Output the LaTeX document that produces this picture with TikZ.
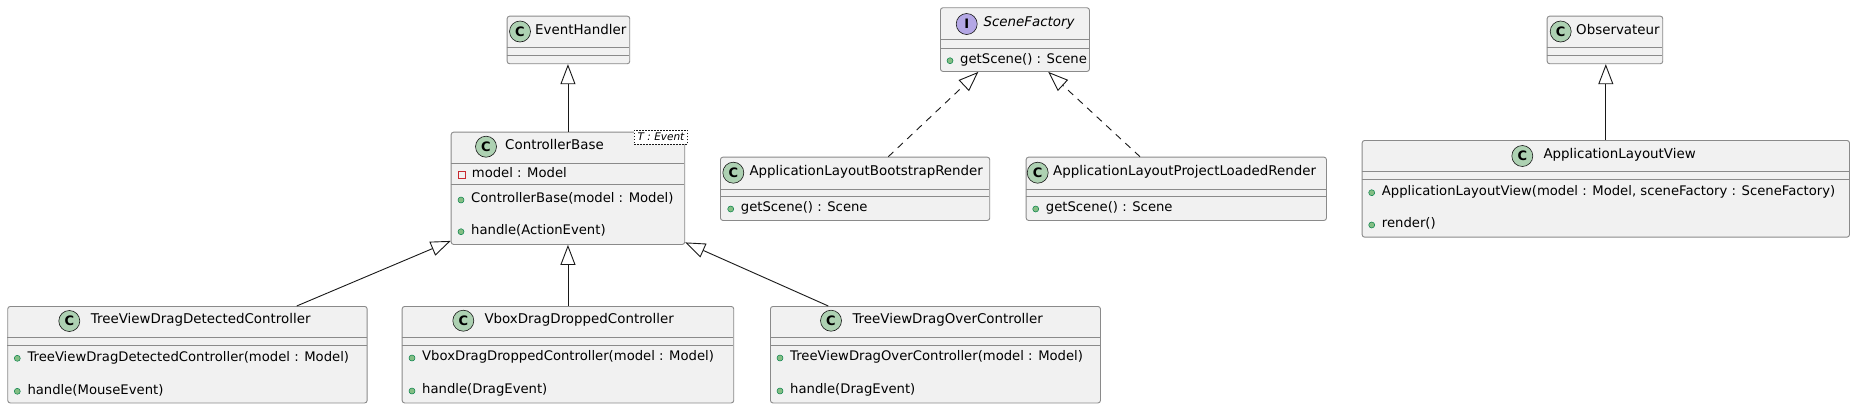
\documentclass[tikz,border=0pt]{standalone}
\usepackage{fontspec}
\setmainfont{DejaVu Sans}
\usepackage{tikz}
\usetikzlibrary{arrows.meta, calc}

\definecolor{boxbg}{HTML}{F1F1F1}
\definecolor{boxedge}{HTML}{8A8A8A}
\definecolor{boxline}{HTML}{181818}
\definecolor{classicon}{HTML}{ADD1B2}
\definecolor{ifaceicon}{HTML}{B4A7E5}
\definecolor{pubfill}{HTML}{84BE84}
\definecolor{publine}{HTML}{038048}
\definecolor{privline}{HTML}{C82930}

\tikzset{
  classbox/.style={draw=boxedge, fill=boxbg, line width=0.9pt, rounded corners=2.5pt,
    anchor=north west, inner sep=0pt},
  sepline/.style={draw=boxedge, line width=0.9pt},
  cicon/.style={circle, draw=boxline, fill=classicon, line width=0.6pt, minimum size=21pt,
    inner sep=0pt, font=\bfseries\fontsize{13}{13}\selectfont},
  ctitle/.style={anchor=mid west, inner sep=0pt, font=\fontsize{13.4}{16}\selectfont},
  member/.style={anchor=mid west, inner sep=0pt, font=\fontsize{13.2}{16}\selectfont},
  pubdot/.style={fill=pubfill, draw=publine, line width=0.5pt},
  tmplbox/.style={draw=boxline, dashed, dash pattern=on 1.5pt off 1.5pt, fill=white,
    line width=0.6pt, inner sep=0pt, minimum width=53.4pt, minimum height=13.7pt,
    font=\itshape\fontsize{10.5}{11}\selectfont},
  inherit/.style={draw=boxline, line width=0.9pt, -{Triangle[open, length=20pt, width=15pt]}},
  realize/.style={inherit, dash pattern=on 7pt off 6pt}
}

\begin{document}
\begin{tikzpicture}[x=1pt, y=-1pt]
    \fill[white] (0,0) rectangle (1854,408);
    \useasboundingbox (0,0) rectangle (1854,408);

    % Draw class boxes and their separators
    \foreach \n/\xa/\ya/\xb/\yb/\sa/\sb in {
        eh/506.7/15.7/629.3/63.3/47.3/55.3,
        cb/450.7/131.7/684.3/244/163.3/184,
        sf/940/7.3/1089/71/39/48.3,
        bs/720/156.7/989.3/220/189/196.7,
        pl/1025.7/156.7/1326/220/189/196.7,
        ob/1546.7/15.7/1662.3/63.3/47.3/55.3,
        alv/1361.7/140/1849/236.7/171.7/179.7,
        tvdd/7.3/306/366.7/402.5/337.3/345.3,
        vb/401.7/306/733.3/402.5/337.3/345.3,
        tvo/770/306/1100/402.5/337.3/345.3}
    {
        \node[classbox, minimum width=\xb pt-\xa pt, minimum height=\yb pt-\ya pt] (\n) at (\xa,\ya) {};
        \draw[sepline] (\xa,\sa) -- (\xb,\sa) (\xa,\sb) -- (\xb,\sb);
    }

    % Class names with their icons
    \foreach \n/\ix/\tx/\ty/\name in {
        eh/520/535/31.5/EventHandler,
        cb/486/505/146.7/ControllerBase,
        bs/733.3/749.3/172.7/ApplicationLayoutBootstrapRender,
        pl/1037.7/1053/172.7/ApplicationLayoutProjectLoadedRender,
        ob/1560.7/1576/31.5/Observateur,
        alv/1522.3/1543.3/156/ApplicationLayoutView,
        tvdd/69.3/90.7/321/TreeViewDragDetectedController,
        vb/463.3/484.3/320.7/VboxDragDroppedController,
        tvo/831/852.3/320.7/TreeViewDragOverController}
    {
        \node[cicon] (\n-icon) at (\ix,\ty) {C};
        \node[ctitle] (\n-name) at (\tx,\ty) {\name};
    }
    \node[cicon, fill=ifaceicon] (sf-icon) at (966.7,24) {I};
    \node[ctitle, font=\itshape\fontsize{13.4}{16}\selectfont] (sf-name) at (983.3,24) {SceneFactory};

    % Generic parameter of ControllerBase
    \node[tmplbox] (cb-tmpl) at (661,137.2) {T : Event};

    % Private attribute
    \draw[privline, line width=0.8pt] (458,171.5) rectangle (465,178.5);
    \node[member] (cb-attr) at (471.7,175) {model : Model};

    % Public methods
    \foreach \bx/\my/\txt [count=\i] in {
        461/200/{ControllerBase(model : Model)},
        461/231.7/{handle(ActionEvent)},
        950/60.7/{getScene() : Scene},
        730.7/209/{getScene() : Scene},
        1035.7/209/{getScene() : Scene},
        1371.7/192.7/{ApplicationLayoutView(model : Model, sceneFactory : SceneFactory)},
        1371.7/225/{render()},
        17.3/358.3/{TreeViewDragDetectedController(model : Model)},
        17.3/391.3/{handle(MouseEvent)},
        412/358/{VboxDragDroppedController(model : Model)},
        412/391/{handle(DragEvent)},
        780/358/{TreeViewDragOverController(model : Model)},
        780/391/{handle(DragEvent)}}
    {
        \fill[pubdot] (\bx,\my) circle[radius=3pt];
        \node[member] (m\i) at (\bx+10,\my) {\txt};
    }

    % Inheritance
    \draw[inherit] (cb.north) -- (cb.north |- eh.south);
    \draw[inherit] (vb.north) -- (cb.south);
    \draw[inherit] ($(tvdd.north west)+(289.4,0)$) -- ($(cb.south west)+(0,-4)$);
    \draw[inherit] ($(tvo.north west)+(58.3,0)$) -- ($(cb.south east)+(0,-2.5)$);
    \draw[inherit] (alv.north) -- (alv.north |- ob.south);

    % Realization of SceneFactory
    \draw[realize] ($(bs.north west)+(168.3,0)$) -- ($(sf.south west)+(38.3,0)$);
    \draw[realize] ($(pl.north west)+(114.3,0)$) -- ($(sf.south west)+(108.3,0)$);
\end{tikzpicture}
\end{document}
